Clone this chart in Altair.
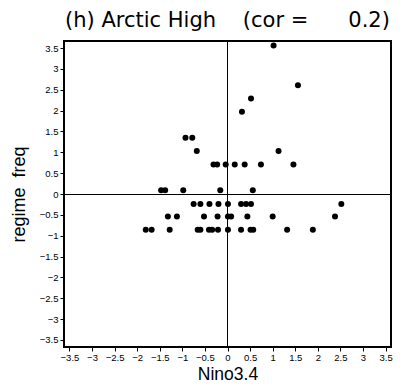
import altair as alt
import pandas as pd

# Nino3.4 index (x) and regime frequency anomaly (y)
nino = [
    1.02, 1.56, 0.52, 0.32, -0.93, -0.78, -0.68, 1.13,
    -0.31, -0.23, -0.04, 0.16, 0.38, 0.74, 1.46,
    -1.47, -1.38, -0.98, -0.16, 0.56,
    -0.75, -0.60, -0.40, -0.20, 0.01, 0.30, 0.41, 0.52, 2.52,
    -1.32, -1.12, -0.52, -0.22, 0.01, 0.08, 0.44, 1.00, 2.38,
    -1.81, -1.68, -1.28, -0.66, -0.60, -0.41, -0.34, -0.21, 0.01, 0.30, 0.51, 0.57, 1.32, 1.89,
]
freq = [
    3.56, 2.61, 2.29, 1.97, 1.35, 1.35, 1.03, 1.03,
    0.71, 0.71, 0.71, 0.71, 0.71, 0.71, 0.71,
    0.09, 0.09, 0.09, 0.09, 0.09,
    -0.24, -0.24, -0.24, -0.24, -0.24, -0.24, -0.24, -0.24, -0.24,
    -0.54, -0.54, -0.54, -0.54, -0.54, -0.54, -0.54, -0.54, -0.54,
    -0.86, -0.86, -0.86, -0.86, -0.86, -0.86, -0.86, -0.86, -0.86, -0.86, -0.86, -0.86, -0.86, -0.86,
]
tick_values = [-3.5, -3, -2.5, -2, -1.5, -1, -0.5, 0, 0.5, 1, 1.5, 2, 2.5, 3, 3.5]
x_domain = [-3.62, 3.62]
y_domain = [-3.67, 3.67]
title_text = "(h) Arctic High" + "\u00a0" * 4 + "(cor =" + "\u00a0" * 6 + "0.2)"
x_title = "Nino3.4"
y_title = "regime\u00a0\u00a0freq"

df = pd.DataFrame({"nino": nino, "freq": freq})
zero = pd.DataFrame({"v": [0]})
frame = pd.DataFrame({"x0": [x_domain[0]], "x1": [x_domain[1]],
                      "y0": [y_domain[0]], "y1": [y_domain[1]]})

xs = alt.Scale(domain=x_domain, nice=False, zero=False)
ys = alt.Scale(domain=y_domain, nice=False, zero=False)

axis_common = dict(
    values=tick_values,
    format="~g",
    labelFont="Liberation Sans",
    labelFontSize=9.5,
    labelColor="black",
    labelOverlap=False,
    labelFlush=False,
    tickColor="black",
    tickSize=4,
    tickWidth=1,
    domain=False,
    grid=False,
    titleFont="Liberation Sans",
    titleFontWeight="normal",
    titleColor="black",
)
x_axis = alt.Axis(labelPadding=1, titlePadding=4, titleFontSize=17.5, **axis_common)
y_axis = alt.Axis(labelPadding=2, titlePadding=11, titleFontSize=18, **axis_common)

points = alt.Chart(df).mark_circle(size=36, color="black", opacity=1).encode(
    x=alt.X("nino:Q", scale=xs, title=x_title, axis=x_axis),
    y=alt.Y("freq:Q", scale=ys, title=y_title, axis=y_axis),
)

vline = alt.Chart(zero).mark_rule(color="black", strokeWidth=1).encode(
    x=alt.X("v:Q", scale=xs, title=x_title, axis=x_axis))
hline = alt.Chart(zero).mark_rule(color="black", strokeWidth=1, yOffset=0.5).encode(
    y=alt.Y("v:Q", scale=ys, title=y_title, axis=y_axis))

box = alt.Chart(frame).mark_rect(fill=None, fillOpacity=0, stroke="black", strokeWidth=2).encode(
    x=alt.X("x0:Q", scale=xs, title=x_title, axis=x_axis),
    x2="x1:Q",
    y=alt.Y("y0:Q", scale=ys, title=y_title, axis=y_axis),
    y2="y1:Q",
)

chart = alt.layer(box, vline, hline, points).properties(
    width=327,
    height=306,
    title=alt.TitleParams(
        text=title_text,
        font="DejaVu Sans",
        fontSize=21,
        fontWeight="normal",
        color="black",
        anchor="middle",
        offset=9,
    ),
    autosize=alt.AutoSizeParams(type="none"),
    padding={"left": 56, "top": 33, "right": 8, "bottom": 36},
).configure_view(
    stroke=None
).configure(background="white")

chart.save("out.html", embed_options={"renderer": "svg", "actions": False})
